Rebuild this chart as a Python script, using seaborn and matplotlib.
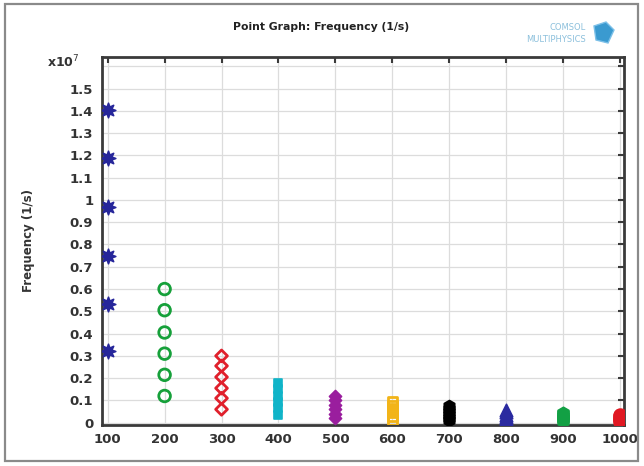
import numpy as np
import pandas as pd
import matplotlib
matplotlib.use("Agg")
import matplotlib.pyplot as plt
from matplotlib.patches import Rectangle, Polygon
import seaborn as sns

# ---- data (Frequency in 1/s) ----
lengths = [100, 200, 300, 400, 500, 600, 700, 800, 900, 1000]
f100 = [0.32e7, 0.535e7, 0.75e7, 0.97e7, 1.19e7, 1.405e7]
f200 = [0.12e7, 0.215e7, 0.31e7, 0.405e7, 0.505e7, 0.60e7]
f300 = [0.06e7, 0.11e7, 0.155e7, 0.205e7, 0.255e7, 0.30e7]
f400 = [0.035e7, 0.064e7, 0.093e7, 0.122e7, 0.151e7, 0.18e7]
f500 = [0.02e7, 0.04e7, 0.06e7, 0.08e7, 0.10e7, 0.12e7]
f600 = [0.012e7, 0.028e7, 0.045e7, 0.062e7, 0.078e7, 0.095e7]
f700 = [0.01e7, 0.023e7, 0.036e7, 0.049e7, 0.062e7, 0.075e7]
f800 = [0.008e7, 0.017e7, 0.027e7, 0.036e7, 0.046e7, 0.055e7]
f900 = [0.007e7, 0.015e7, 0.022e7, 0.030e7, 0.037e7, 0.045e7]
f1000 = [0.005e7, 0.011e7, 0.017e7, 0.023e7, 0.029e7, 0.035e7]
freqs = [f100, f200, f300, f400, f500, f600, f700, f800, f900, f1000]
ytick_vals = [0, 0.1e7, 0.2e7, 0.3e7, 0.4e7, 0.5e7, 0.6e7, 0.7e7, 0.8e7,
              0.9e7, 1.0e7, 1.1e7, 1.2e7, 1.3e7, 1.4e7, 1.5e7, 1.6e7]
ytick_labels = ["0", "0.1", "0.2", "0.3", "0.4", "0.5", "0.6", "0.7", "0.8",
                "0.9", "1", "1.1", "1.2", "1.3", "1.4", "1.5", ""]

colors = ["#26269a", "#16a03a", "#e0202c", "#10b4c8", "#9a1e9e",
          "#f2b418", "#000000", "#2a2aa0", "#12a044", "#e01822"]
markers = [(8, 1, 0), "o", "D", "s", "D", "s", "h", "^", "h", "o"]
filled = [True, False, False, True, True, False, True, True, True, True]
sizes = [110, 70, 36, 38, 38, 45, 75, 80, 80, 85]

df = pd.DataFrame({
    "Length": np.repeat(lengths, [len(f) for f in freqs]),
    "Frequency": np.concatenate(freqs),
})

W, H = 644, 466
fig = plt.figure(figsize=(W / 100, H / 100), dpi=100)
sns.set_style("white")
ax = fig.add_axes([101.7 / W, 1 - 424.5 / H, (624 - 101.7) / W, (424.5 - 56.7) / H])

for L, c, m, fl, s in zip(lengths, colors, markers, filled, sizes):
    sub = df[df["Length"] == L]
    if fl:
        sns.scatterplot(data=sub, x="Length", y="Frequency", ax=ax, color=c,
                        marker=m, s=s, edgecolor=c, linewidth=1.2, zorder=3,
                        legend=False)
    else:
        sns.scatterplot(data=sub, x="Length", y="Frequency", ax=ax,
                        marker=m, s=s, facecolor="none", edgecolor=c,
                        linewidth=2.0, zorder=3, legend=False)

ax.set_xlim(89.5, 1007)
ax.set_ylim(-0.008e7, 1.643e7)
ax.set_xticks(lengths)
ax.set_yticks(ytick_vals)
ax.set_yticklabels(ytick_labels)
ax.grid(True, color="#dcdcdc", linewidth=0.9)
ax.set_axisbelow(True)
for sp in ax.spines.values():
    sp.set_color("#3a3a3a")
    sp.set_linewidth(2.0)
ax.tick_params(direction="in", length=4, width=1.5, color="#3a3a3a",
               top=True, right=True, labelsize=9.5, labelcolor="#333333", pad=6)
for lab in ax.get_xticklabels() + ax.get_yticklabels():
    lab.set_fontweight("bold")
ax.set_xlabel("")
ax.set_ylabel("Frequency (1/s)", fontsize=8.5, fontweight="bold", color="#333333")
ax.yaxis.set_label_coords(-0.127, 0.5)

fig.text(63 / W, 1 - 62 / H, r"x10$^7$", fontsize=9, fontweight="bold",
         color="#333333", ha="center", va="center")
fig.text(321 / W, 1 - 27 / H, "Point Graph: Frequency (1/s)", fontsize=7.8,
         fontweight="semibold", color="#222222", ha="center", va="center")
fig.text(586 / W, 1 - 28 / H, "COMSOL", fontsize=6, color="#8cc0dc",
         ha="right", va="center")
fig.text(586 / W, 1 - 39 / H, "MULTIPHYSICS", fontsize=6, color="#8cc0dc",
         ha="right", va="center")
cube = Polygon([[594 / W, 1 - 26 / H], [606 / W, 1 - 22 / H], [614 / W, 1 - 30 / H],
                [608 / W, 1 - 43 / H], [596 / W, 1 - 40 / H]],
               closed=True, transform=fig.transFigure, facecolor="#3a9ad0",
               edgecolor="#7cc0e8", linewidth=1)
fig.patches.append(cube)

fig.patches.append(Rectangle((5 / W, 1 - 461 / H), (638 - 5) / W, (461 - 4) / H,
                             transform=fig.transFigure, fill=False,
                             edgecolor="#8a8a8a", linewidth=1.6))

fig.savefig("out.png", dpi=100)
